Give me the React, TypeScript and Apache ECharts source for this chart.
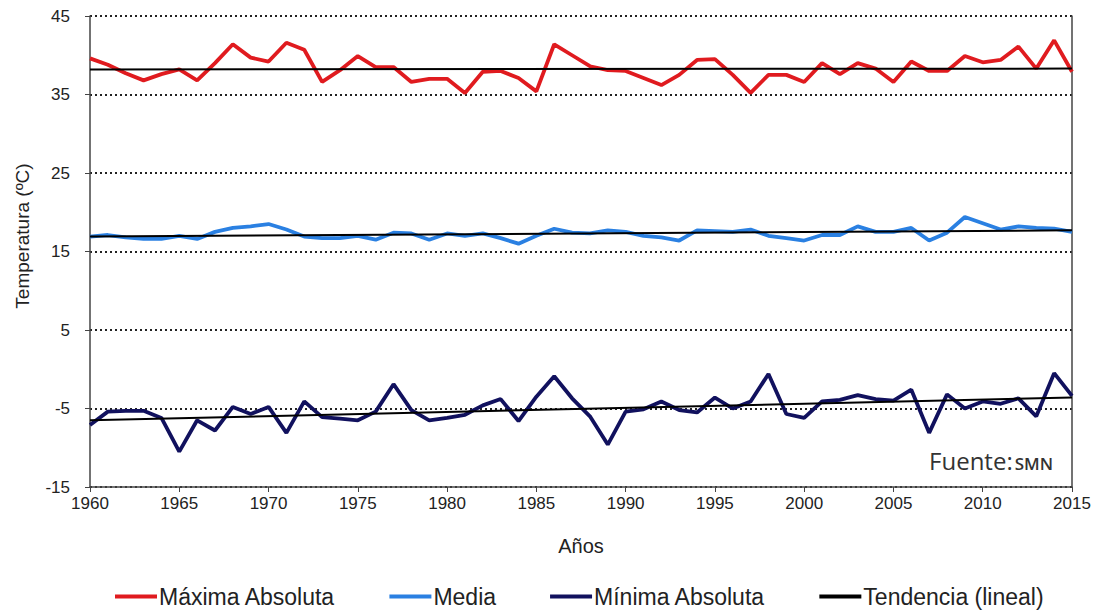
import React, { useEffect, useRef } from "react";
import * as echarts from "echarts";

const years = [
  1960, 1961, 1962, 1963, 1964, 1965, 1966, 1967, 1968, 1969,
  1970, 1971, 1972, 1973, 1974, 1975, 1976, 1977, 1978, 1979,
  1980, 1981, 1982, 1983, 1984, 1985, 1986, 1987, 1988, 1989,
  1990, 1991, 1992, 1993, 1994, 1995, 1996, 1997, 1998, 1999,
  2000, 2001, 2002, 2003, 2004, 2005, 2006, 2007, 2008, 2009,
  2010, 2011, 2012, 2013, 2014, 2015,
];

const maxima = [
  39.6, 38.8, 37.7, 36.8, 37.6, 38.2, 36.8, 39.0, 41.4, 39.7,
  39.2, 41.6, 40.7, 36.6, 38.1, 39.9, 38.5, 38.5, 36.6, 37.0,
  37.0, 35.2, 37.9, 38.0, 37.1, 35.4, 41.4, 40.0, 38.6, 38.1,
  38.0, 37.1, 36.2, 37.5, 39.4, 39.5, 37.5, 35.2, 37.5, 37.5,
  36.6, 39.0, 37.6, 39.0, 38.3, 36.6, 39.2, 38.0, 38.0, 39.9,
  39.1, 39.4, 41.1, 38.3, 41.9, 37.9,
];

const media = [
  16.9, 17.1, 16.8, 16.6, 16.6, 17.0, 16.6, 17.5, 18.0, 18.2,
  18.5, 17.8, 16.9, 16.7, 16.7, 17.0, 16.5, 17.4, 17.3, 16.5,
  17.3, 17.0, 17.3, 16.7, 16.0, 17.0, 17.9, 17.4, 17.3, 17.7,
  17.5, 17.0, 16.8, 16.4, 17.7, 17.6, 17.5, 17.8, 17.0, 16.7,
  16.4, 17.1, 17.1, 18.2, 17.5, 17.5, 18.0, 16.4, 17.4, 19.4,
  18.6, 17.8, 18.2, 18.0, 17.9, 17.5,
];

const minima = [
  -7.1, -5.4, -5.3, -5.3, -6.2, -10.5, -6.5, -7.8, -4.8, -5.7,
  -4.8, -8.1, -4.1, -6.1, -6.3, -6.5, -5.4, -1.9, -5.2, -6.5,
  -6.2, -5.8, -4.6, -3.8, -6.6, -3.5, -0.9, -3.7, -6.0, -9.6,
  -5.4, -5.1, -4.1, -5.2, -5.5, -3.6, -5.0, -4.1, -0.6, -5.7,
  -6.2, -4.1, -3.9, -3.3, -3.8, -4.0, -2.6, -8.1, -3.2, -5.0,
  -4.1, -4.4, -3.7, -6.0, -0.5, -3.4,
];

const trendYears = [1960, 2015];
const trendMax = [38.2, 38.3];
const trendMedia = [16.9, 17.7];
const trendMin = [-6.5, -3.6];

const yTicks = [-15, -5, 5, 15, 25, 35, 45];

const RED = "#e01b1f";
const BLUE = "#2a80e2";
const NAVY = "#11115e";
const FONT = "'Liberation Sans', Arial, sans-serif";

export default function App() {
  const ref = useRef<HTMLDivElement>(null);

  useEffect(() => {
    if (!ref.current) return;
    const chart = echarts.init(ref.current, null, { renderer: "svg" });
    const pair = (xs: number[], vs: number[]) => xs.map((x, i) => [x, vs[i]]);
    const lineSeries = (name: string, data: number[], color: string) => ({
      name,
      type: "line",
      data: pair(years, data),
      symbol: "none",
      lineStyle: { color, width: 3.8 },
      itemStyle: { color },
      z: 3,
    });
    const trendSeries = (data: number[]) => ({
      name: "Tendencia (lineal)",
      type: "line",
      data: pair(trendYears, data),
      symbol: "none",
      lineStyle: { color: "#000", width: 2 },
      itemStyle: { color: "#000" },
      z: 4,
    });
    chart.setOption({
      animation: false,
      textStyle: { fontFamily: FONT },
      grid: { left: 90, right: 27, top: 16, bottom: 124, containLabel: false },
      xAxis: {
        type: "value",
        min: 1960,
        max: 2015,
        interval: 5,
        name: "Años",
        nameLocation: "middle",
        nameGap: 49,
        nameTextStyle: { fontSize: 20, color: "#222", fontFamily: FONT },
        axisLine: { show: true, onZero: false, lineStyle: { color: "#444", width: 1.5 } },
        axisTick: { show: true, length: 5, lineStyle: { color: "#444" } },
        axisLabel: {
          fontSize: 17,
          color: "#222",
          margin: 8,
          fontFamily: FONT,
          formatter: (v: number) => String(v),
        },
        splitLine: { show: false },
      },
      yAxis: [
        {
          type: "value",
          min: -15,
          max: 45,
          interval: 10,
          axisLine: { show: true, lineStyle: { color: "#444", width: 1.5 } },
          axisTick: { show: true, length: 5, lineStyle: { color: "#444" } },
          axisLabel: {
            fontSize: 17,
            color: "#222",
            margin: 20,
            fontFamily: FONT,
            formatter: (v: number) => (yTicks.includes(v) ? String(v) : ""),
          },
          splitLine: {
            show: true,
            lineStyle: { color: "#222", type: [2, 3], width: 2 },
          },
        },
        {
          type: "value",
          min: -15,
          max: 45,
          interval: 10,
          position: "right",
          axisLine: { show: true, lineStyle: { color: "#444", width: 1.5 } },
          axisTick: { show: false },
          axisLabel: { show: false },
          splitLine: { show: false },
        },
      ],
      legend: {
        top: 580,
        left: 110,
        itemGap: 54,
        itemWidth: 42,
        itemHeight: 4,
        icon: "rect",
        textStyle: { fontSize: 23, color: "#222", fontFamily: FONT, padding: [0, 0, 0, -3] },
        data: [
          { name: "Máxima Absoluta", itemStyle: { color: RED } },
          { name: "Media", itemStyle: { color: BLUE } },
          { name: "Mínima Absoluta", itemStyle: { color: NAVY } },
          { name: "Tendencia (lineal)", itemStyle: { color: "#000" } },
        ],
      },
      graphic: [
        {
          type: "text",
          x: 22,
          y: 236,
          rotation: Math.PI / 2,
          style: {
            text: "Temperatura (ºC)",
            align: "center",
            verticalAlign: "middle",
            fontSize: 19,
            fill: "#222",
            fontFamily: FONT,
          },
        },
        {
          type: "text",
          x: 1053,
          y: 472,
          style: {
            text: "{a|Fuente:}{b|SMN}",
            align: "right",
            verticalAlign: "bottom",
            rich: {
              a: { fontSize: 24, fill: "#333", fontFamily: "'Open Sans', sans-serif", verticalAlign: "bottom", lineHeight: 28 },
              b: { fontSize: 17, fill: "#333", fontFamily: "'Open Sans', sans-serif", fontWeight: 600, verticalAlign: "bottom", lineHeight: 23, padding: [0, 0, 0, 2] },
            },
          },
          z: 10,
        },
      ],
      series: [
        lineSeries("Máxima Absoluta", maxima, RED),
        lineSeries("Media", media, BLUE),
        lineSeries("Mínima Absoluta", minima, NAVY),
        trendSeries(trendMax),
        trendSeries(trendMedia),
        trendSeries(trendMin),
      ],
    });
    return () => chart.dispose();
  }, []);

  return <div ref={ref} style={{ width: 1099, height: 611, position: "absolute", left: 0, top: 0 }} />;
}
